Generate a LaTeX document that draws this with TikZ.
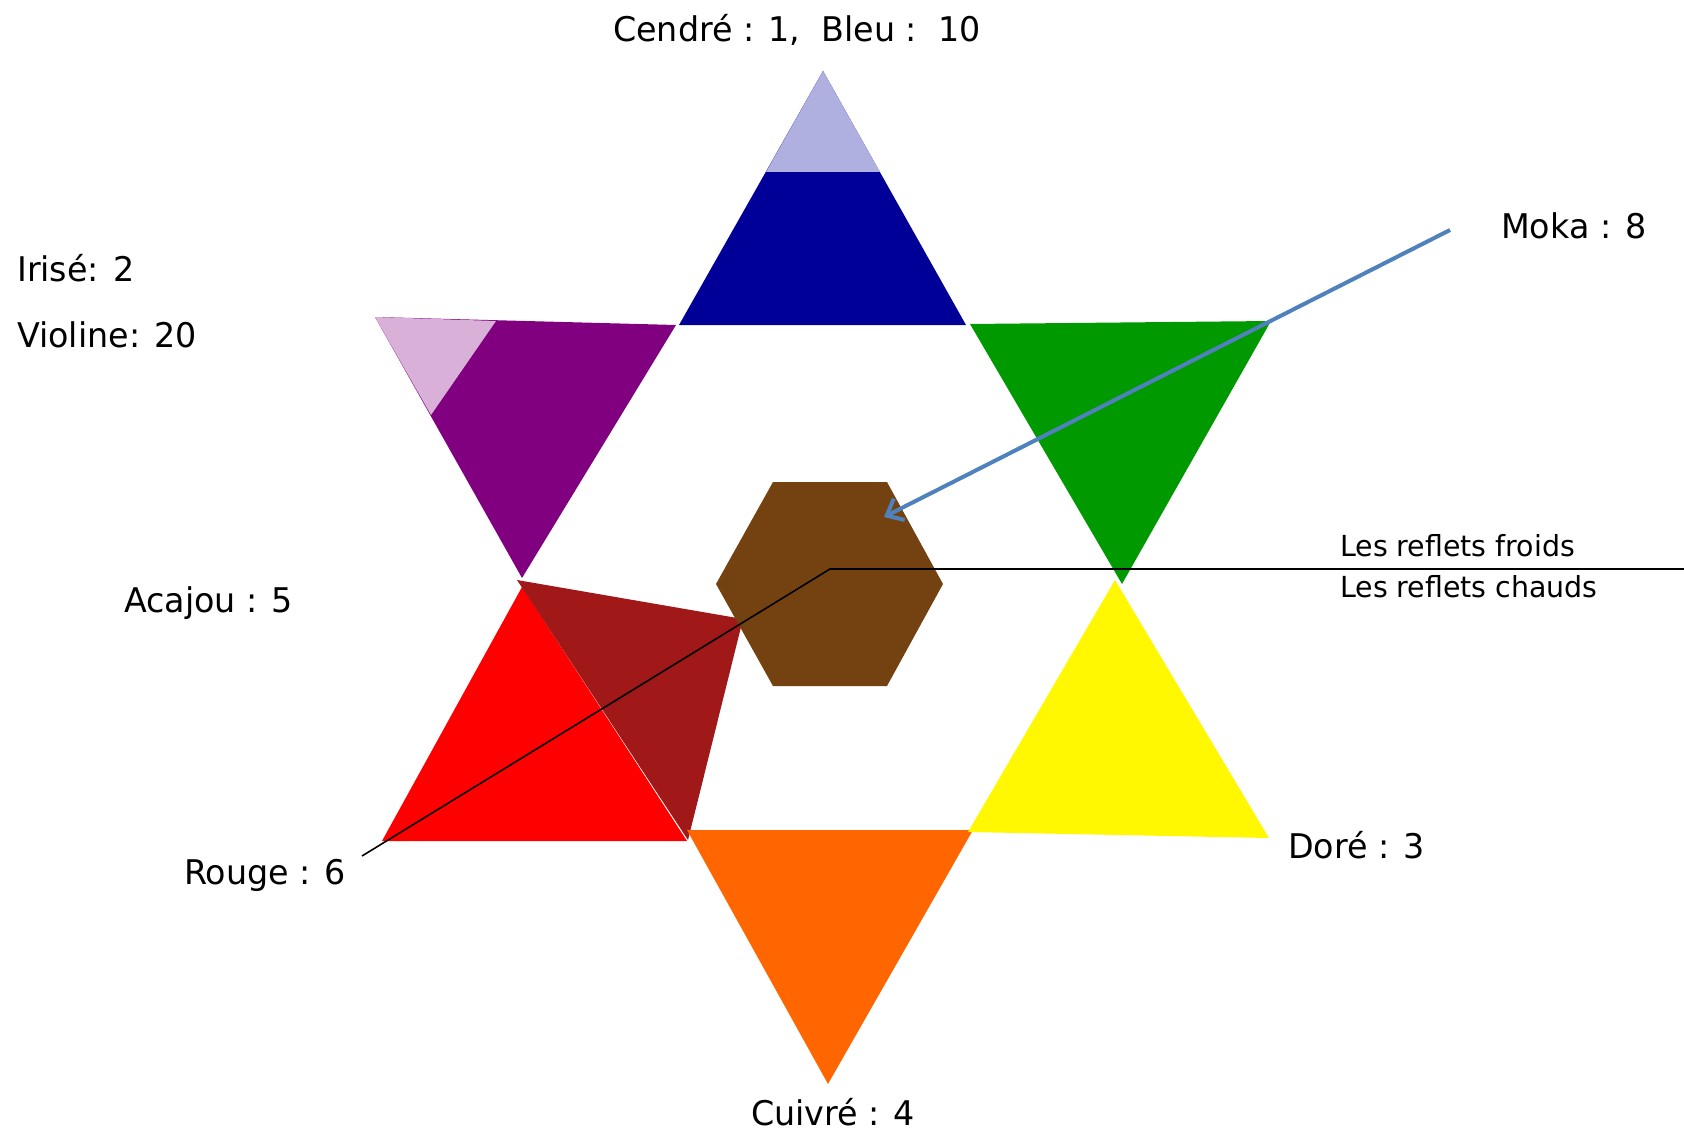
\documentclass[tikz,border=0pt]{standalone}
\usepackage{fontspec}
\setmainfont{DejaVu Sans}[FakeStretch=0.98]
\usetikzlibrary{arrows.meta}
\definecolor{lightblue}{RGB}{176,176,224}
\definecolor{darkblue}{RGB}{0,0,153}
\definecolor{violetc}{RGB}{128,0,128}
\definecolor{lightviolet}{RGB}{216,176,216}
\definecolor{darkred}{RGB}{160,24,24}
\definecolor{orng}{RGB}{255,102,0}
\definecolor{yel}{RGB}{255,248,0}
\definecolor{grn}{RGB}{0,153,0}
\definecolor{brownc}{RGB}{115,66,16}
\definecolor{mokac}{RGB}{79,129,189}
\begin{document}
\begin{tikzpicture}[x=1pt,y=-1pt,
  lbl/.style={inner sep=0pt, font=\fontsize{34}{40}\selectfont, anchor=west},
  small/.style={inner sep=0pt, font=\fontsize{29}{34}\selectfont, anchor=west}]
\useasboundingbox (0,0) rectangle (1684,1134);
% triangles
\fill[darkblue] (823,71) -- (966,325) -- (679,325) -- cycle;
\fill[lightblue] (823,71) -- (880,172) -- (766,172) -- cycle;
\fill[violetc] (375,317) -- (676,325) -- (522,578) -- cycle;
\fill[lightviolet] (375,317) -- (496,321) -- (431,415) -- cycle;
\fill[grn] (970,324) -- (1271,321) -- (1122,584) -- cycle;
\fill[red] (522,587) -- (687,841) -- (382,841) -- cycle;
\fill[darkred] (517,580) -- (743,619) -- (688,840) -- cycle;
\fill[orng] (687,830) -- (973,830) -- (828,1084) -- cycle;
\fill[yel] (1115,580) -- (1269,838) -- (968,832) -- cycle;
% hexagon
\fill[brownc] (773,482) -- (887,482) -- (943,584) -- (887,686) -- (773,686) -- (716,584) -- cycle;
% labels
\node[lbl, anchor=center] (cendre) at (797,30) {Cendré : 1,\ \ Bleu :\ \ 10};
\node[lbl] (moka) at (1501,226) {Moka : 8};
\node[lbl] (irise) at (17,268) {Irisé: 2};
\node[lbl] (violine) at (17,335) {Violine: 20};
\node[lbl] (acajou) at (124,603) {Acajou : 5};
\node[lbl] (rouge) at (184,875) {Rouge : 6};
\node[lbl] (dore) at (1288,845) {Doré : 3};
\node[lbl] (cuivre) at (751,1112) {Cuivré : 4};
\node[small] (froids) at (1340,546) {Les reflets froids};
\node[small] (chauds) at (1340,587) {Les reflets chauds};
% connectors
\coordinate (mokastart) at (1450,230);
\coordinate (mokaend) at (884,517);
\draw[mokac, line width=4pt, -{Straight Barb[length=14pt,width=24pt,line width=4pt]}] (mokastart) -- (mokaend);
\coordinate (linestart) at (362,856);
\coordinate (corner) at (830,569);
\coordinate (lineend) at (1684,569);
\draw[line width=1.6pt] (linestart) -- (corner) -- (lineend);
\end{tikzpicture}
\end{document}
